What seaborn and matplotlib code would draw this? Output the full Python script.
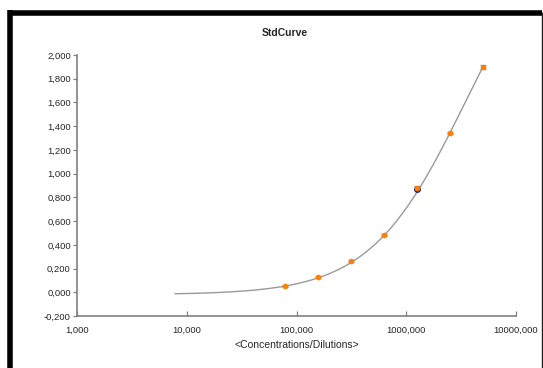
import numpy as np
import pandas as pd
import matplotlib
matplotlib.use("Agg")
import matplotlib.pyplot as plt
from matplotlib.lines import Line2D
import seaborn as sns

# Standard dilution series and measured responses
concentrations = [78125, 156250, 312500, 625000, 1250000, 2500000, 5000000]
responses = [0.053, 0.129, 0.261, 0.483, 0.878, 1.342, 1.899]
errors = [0.008, 0.008, 0.008, 0.008, 0.016, 0.008, 0.016]

# Fitted curve: y = bottom + span * x / (ec + x)  (hyperbolic fit)
fit_params = [-0.02, 3.25, 3.46e6]
fit_range = [7812.5, 5000000]

y_ticks = [-0.2, 0.0, 0.2, 0.4, 0.6, 0.8, 1.0, 1.2, 1.4, 1.6, 1.8, 2.0]
y_tick_labels = ["-0,200", "0,000", "0,200", "0,400", "0,600", "0,800",
                 "1,000", "1,200", "1,400", "1,600", "1,800", "2,000"]
x_ticks = [1e3, 1e4, 1e5, 1e6, 1e7]
x_tick_labels = ["1,000", "10,000", "100,000", "1000,000", "10000,000"]

sns.set_theme(style="white")
plt.rcParams["font.family"] = ["Liberation Sans", "DejaVu Sans"]

W, H = 543, 368
fig = plt.figure(figsize=(W / 100, H / 100), dpi=100)
fig.patch.set_facecolor("white")
ax = fig.add_axes([77 / W, 1 - 316 / H, (516 - 77) / W, (316 - 55) / H])

b, span, ec = fit_params
xs = np.logspace(np.log10(fit_range[0]), np.log10(fit_range[1]), 300)
curve = pd.DataFrame({"x": xs, "y": b + span * xs / (ec + xs)})
sns.lineplot(data=curve, x="x", y="y", ax=ax, color="#9a9a9a", linewidth=1.0)

df = pd.DataFrame({"x": concentrations, "y": responses, "err": errors})
ax.errorbar(df["x"], df["y"], yerr=df["err"], fmt="none", ecolor="#8c8c8c",
            elinewidth=0.8, capsize=2.5, capthick=0.8, zorder=3)
# replicate at the 1.25e6 level
ax.scatter([1250000], [0.870], s=16, color="#2a2a8a", zorder=3.5)
sns.scatterplot(data=df, x="x", y="y", ax=ax, color="#ff8000", s=14,
                edgecolor="#ff8000", linewidth=0.3, zorder=4)

ax.set_xscale("log")
ax.set_xlim(1e3, 1e7)
ax.set_ylim(-0.2, 2.0)
ax.set_xticks(x_ticks)
ax.set_xticklabels(x_tick_labels)
ax.minorticks_off()
ax.set_yticks(y_ticks)
ax.set_yticklabels(y_tick_labels)
ax.set_xlabel("<Concentrations/Dilutions>", fontsize=7.5, labelpad=4)
ax.set_ylabel("")

for side in ["top", "right"]:
    ax.spines[side].set_visible(False)
for side in ["left", "bottom"]:
    ax.spines[side].set_color("#808080")
    ax.spines[side].set_linewidth(1.2)

ax.tick_params(axis="y", direction="out", length=3, width=0.9, color="#808080",
               labelsize=6.8, pad=1.5, left=True)
ax.tick_params(axis="x", direction="in", length=3.5, width=0.9, color="#808080",
               labelsize=6.8, pad=7, bottom=True)

fig.text(285 / W, 1 - 33 / H, "StdCurve", ha="center", va="center",
         fontsize=7.5, fontweight="bold")

# chart border with heavy top/left edges
def px_line(x0, y0, x1, y1, lw, color="black"):
    fig.add_artist(Line2D([x0 / W, x1 / W], [1 - y0 / H, 1 - y1 / H],
                          transform=fig.transFigure, color=color,
                          linewidth=lw, solid_capstyle="butt"))

px_line(10.2, 10, 10.2, H, 4.0)
px_line(8, 12.8, 542, 12.8, 4.0)
px_line(541.5, 12, 541.5, H, 1.0, "#222222")

fig.savefig("out.png", dpi=100)
